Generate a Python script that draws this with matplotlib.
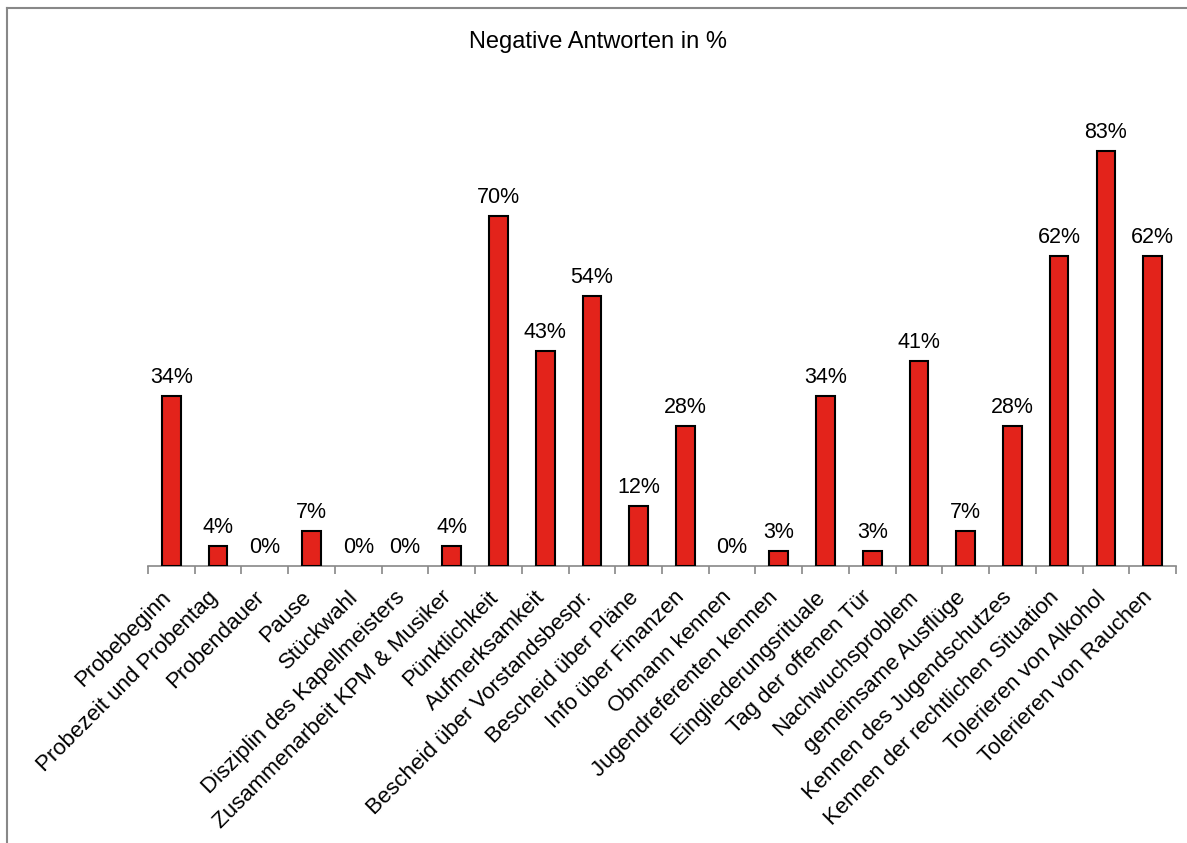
import matplotlib
matplotlib.use("Agg")
from matplotlib import pyplot as plt
from matplotlib.lines import Line2D
from matplotlib.transforms import ScaledTranslation

plt.rcParams['font.family'] = ['Liberation Sans', 'DejaVu Sans']

# data
categories = [
    "Probebeginn", "Probezeit und Probentag", "Probendauer", "Pause",
    "Stückwahl", "Disziplin des Kapellmeisters", "Zusammenarbeit KPM & Musiker",
    "Pünktlichkeit", "Aufmerksamkeit", "Bescheid über Vorstandsbespr.",
    "Bescheid über Pläne", "Info über Finanzen", "Obmann kennen",
    "Jugendreferenten kennen", "Eingliederungsrituale", "Tag der offenen Tür",
    "Nachwuchsproblem", "gemeinsame Ausflüge", "Kennen des Jugendschutzes",
    "Kennen der rechtlichen Situation", "Tolerieren von Alkohol",
    "Tolerieren von Rauchen",
]
values = [34, 4, 0, 7, 0, 0, 4, 70, 43, 54, 12, 28, 0, 3, 34, 3, 41, 7, 28, 62, 83, 62]

fig = plt.figure(figsize=(11.87, 8.43), dpi=100)
ax = fig.add_axes([0.1247, 0.3286, 0.866, 0.593])

x = list(range(len(categories)))
# zero bars are drawn without an outline
lws = [1.5 if v > 0 else 0 for v in values]
ax.bar(x, values, width=0.4, color="#e3231b", edgecolor="black", linewidth=lws, zorder=3)

for xi, v in zip(x, values):
    ax.text(xi, v + 1.6, f"{v}%", ha="center", va="bottom", fontsize=15.5)

ax.set_xlim(-0.5, len(categories) - 0.5)
ax.set_ylim(0, 100)
fig.text(598 / 1187, 1 - 42 / 843, "Negative Antworten in %", ha="center", va="center", fontsize=17)

# x axis only
for s in ["top", "right", "left"]:
    ax.spines[s].set_visible(False)
ax.spines["bottom"].set_color("#888888")
ax.spines["bottom"].set_linewidth(1.2)
ax.set_yticks([])

# ticks between categories
ax.set_xticks([i - 0.5 for i in range(len(categories) + 1)], minor=True)
ax.tick_params(axis="x", which="minor", length=6, color="#888888", width=1.2)
ax.set_xticks(x)
ax.set_xticklabels(categories, rotation=45, ha="right", va="top",
                   rotation_mode="anchor", fontsize=16)
ax.tick_params(axis="x", which="major", length=0, pad=15)
shift = ScaledTranslation(-11 / 100, 0, fig.dpi_scale_trans)
for lbl in ax.get_xticklabels():
    lbl.set_transform(lbl.get_transform() + shift)

# grey frame at top and left edge of the image
fig.add_artist(Line2D([0.0055, 1.0], [1 - 8 / 843, 1 - 8 / 843], color="#888888", lw=1.5, transform=fig.transFigure))
fig.add_artist(Line2D([0.0055, 0.0055], [0.0, 1 - 8 / 843], color="#888888", lw=1.5, transform=fig.transFigure))

fig.savefig("out.png", dpi=100)
